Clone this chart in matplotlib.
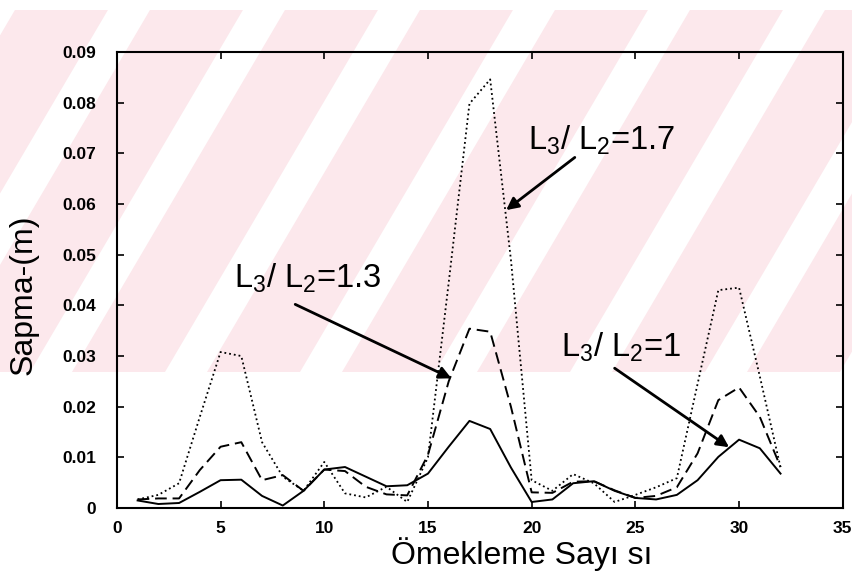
import matplotlib
matplotlib.use('Agg')
import matplotlib.pyplot as plt
from matplotlib.patches import Rectangle, Polygon
from matplotlib.ticker import FixedLocator, FixedFormatter

plt.rcParams['font.family'] = ['Liberation Sans', 'DejaVu Sans']
plt.rcParams['mathtext.fontset'] = 'custom'
plt.rcParams['mathtext.rm'] = 'Liberation Sans'
plt.rcParams['mathtext.it'] = 'Liberation Sans'

# sample number
samples = list(range(1, 33))

# deviation (m) for the three length ratios
dev_ratio_1 = [0.0015, 0.0008, 0.0010, 0.0032, 0.0055, 0.0056, 0.0024, 0.0005,
               0.0034, 0.0076, 0.0081, 0.0062, 0.0043, 0.0045, 0.0068, 0.0121,
               0.0172, 0.0156, 0.0080, 0.0012, 0.0017, 0.0049, 0.0053, 0.0034,
               0.0020, 0.0017, 0.0026, 0.0055, 0.0101, 0.0135, 0.0118, 0.0068]
dev_ratio_13 = [0.0017, 0.0019, 0.0019, 0.0075, 0.0121, 0.0130, 0.0055, 0.0065,
                0.0034, 0.0076, 0.0073, 0.0042, 0.0027, 0.0025, 0.0105, 0.0250,
                0.0354, 0.0348, 0.0200, 0.0031, 0.0030, 0.0052, 0.0053, 0.0035,
                0.0020, 0.0024, 0.0041, 0.0108, 0.0213, 0.0238, 0.0180, 0.0081]
dev_ratio_17 = [0.0017, 0.0026, 0.0049, 0.0180, 0.0308, 0.0300, 0.0130, 0.0062,
                0.0034, 0.0091, 0.0029, 0.0021, 0.0042, 0.0012, 0.0100, 0.0445,
                0.0798, 0.0846, 0.0490, 0.0055, 0.0034, 0.0067, 0.0049, 0.0012,
                0.0026, 0.0041, 0.0059, 0.0245, 0.0430, 0.0435, 0.0260, 0.0080]

x_ticks = [0, 5, 10, 15, 20, 25, 30, 35]
y_ticks = [0, 0.01, 0.02, 0.03, 0.04, 0.05, 0.06, 0.07, 0.08, 0.09]
y_tick_labels = ['0', '0.01', '0.02', '0.03', '0.04', '0.05', '0.06', '0.07',
                 '0.08', '0.09']

W, H = 853, 578
fig = plt.figure(figsize=(W / 100, H / 100), dpi=100)


def px(x, y):
    # pixel position (from top-left) -> figure fraction
    return (x / W, 1 - y / H)


# faint pink watermark band behind the chart
wm_top, wm_bottom = 10, 372
band = Rectangle(px(0, wm_bottom), 1, (wm_bottom - wm_top) / H,
                 transform=fig.transFigure, facecolor='#fce8ec',
                 edgecolor='none', zorder=-3)
fig.patches.append(band)
rise = (wm_bottom - wm_top) / 1.7
for x0 in range(-240, 900, 135):
    stripe = Polygon([px(x0, wm_bottom), px(x0 + 42, wm_bottom),
                      px(x0 + 42 + rise, wm_top), px(x0 + rise, wm_top)],
                     closed=True, transform=fig.transFigure,
                     facecolor='white', edgecolor='none', zorder=-2)
    fig.patches.append(stripe)
    stripe.set_clip_path(band)

ax = fig.add_axes([0.137, 0.121, 0.851, 0.789])
ax.set_facecolor('none')

ax.plot(samples, dev_ratio_1, '-', color='black', lw=1.4)
ax.plot(samples, dev_ratio_13, '--', color='black', lw=1.4, dashes=(6, 3))
ax.plot(samples, dev_ratio_17, ':', color='black', lw=1.3)

ax.set_xlim(0, 35)
ax.set_ylim(0, 0.09)
ax.xaxis.set_major_locator(FixedLocator(x_ticks))
ax.yaxis.set_major_locator(FixedLocator(y_ticks))
ax.yaxis.set_major_formatter(FixedFormatter(y_tick_labels))
ax.tick_params(direction='in', length=5, width=1.2, top=True, right=True,
               labelsize=12.5)
ax.tick_params(axis='x', pad=9)
ax.tick_params(axis='y', pad=15)
for lab in ax.get_xticklabels() + ax.get_yticklabels():
    lab.set_fontweight('bold')
for sp in ax.spines.values():
    sp.set_linewidth(1.5)

ax.set_xlabel('Ömekleme Sayı sı', fontsize=23)
ax.set_ylabel('Sapma-(m)', fontsize=23)
ax.xaxis.set_label_coords(0.557, -0.063)
ax.yaxis.set_label_coords(-0.108, 0.467)

# labels and arrows
arrow = dict(arrowstyle='-|>', color='black', lw=2, mutation_scale=18,
             shrinkA=0, shrinkB=0)
ax.text(19.83, 0.0726, r'$\mathrm{L}_3$/ $\mathrm{L}_2$=1.7', fontsize=23.5,
        ha='left', va='center')
ax.annotate('', xy=(18.77, 0.0588), xytext=(22.08, 0.0692), arrowprops=arrow)

ax.text(5.66, 0.0454, r'$\mathrm{L}_3$/ $\mathrm{L}_2$=1.3', fontsize=23.5,
        ha='left', va='center')
ax.annotate('', xy=(16.13, 0.0256), xytext=(8.6, 0.0402), arrowprops=arrow)

ax.text(21.4, 0.0318, r'$\mathrm{L}_3$/ $\mathrm{L}_2$=1', fontsize=23.5,
        ha='left', va='center')
ax.annotate('', xy=(29.52, 0.0120), xytext=(24.0, 0.0276), arrowprops=arrow)

fig.savefig('out.png', dpi=100)
